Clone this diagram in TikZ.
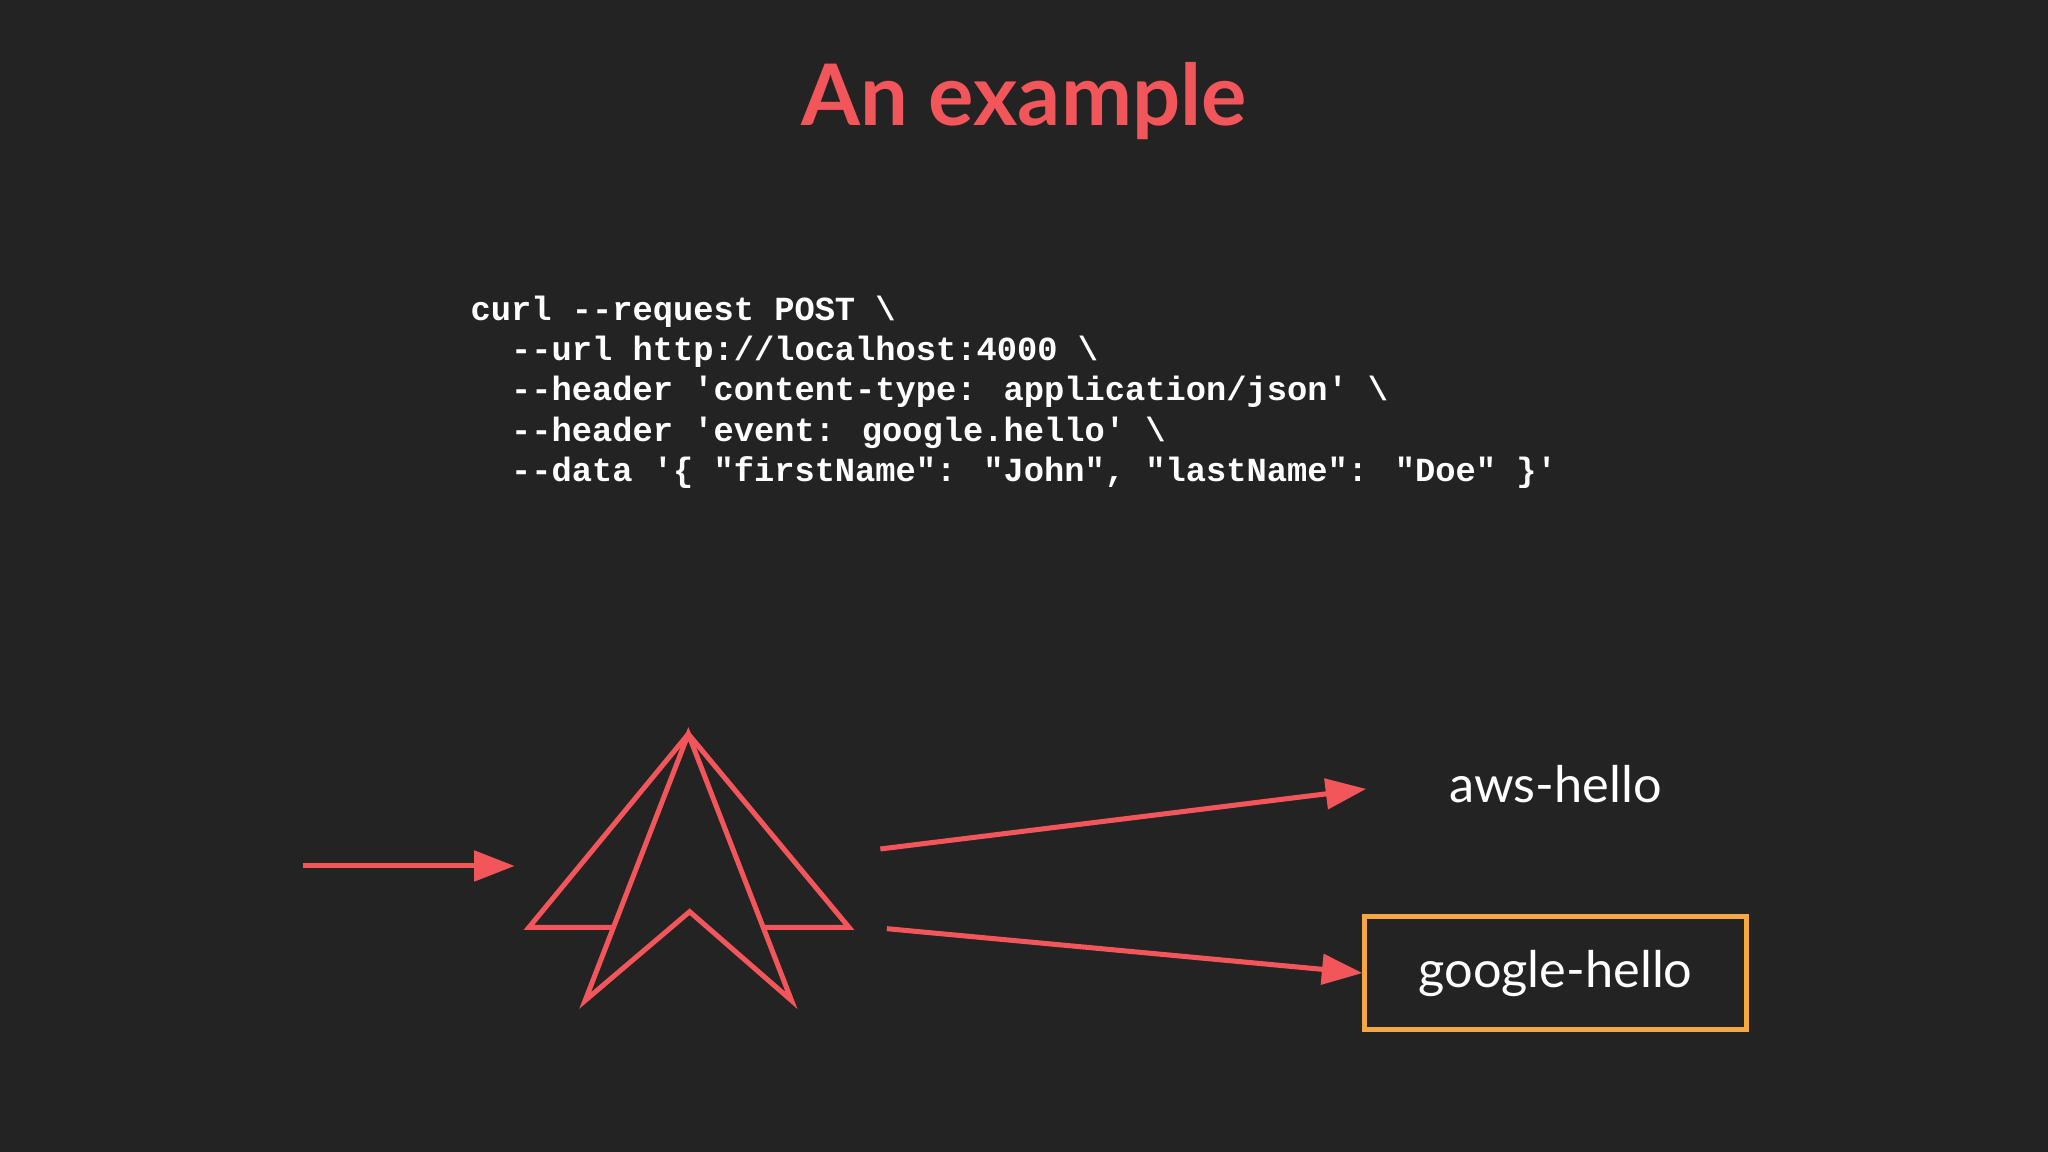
\documentclass[tikz,border=0pt]{standalone}
\usepackage{fontspec}
\setmainfont{Lato}
\newfontfamily\codefont{Liberation Mono}
\usetikzlibrary{arrows.meta}
\definecolor{bg}{HTML}{232323}
\definecolor{accent}{HTML}{F2555A}
\definecolor{boxor}{HTML}{F5A742}
\tikzset{
  redline/.style={draw=accent, line width=2.2pt, line join=miter},
  redarrow/.style={redline, -{Triangle[length=0.62cm,width=0.46cm]}},
  codeline/.style={anchor=base west, inner sep=0pt, text=white, font=\codefont\bfseries\fontsize{14.7pt}{17pt}\selectfont},
  label/.style={text=white, font=\fontsize{22pt}{26pt}\selectfont, inner sep=0pt}
}
\begin{document}
\begin{tikzpicture}[x=0.02cm,y=-0.02cm]
\fill[bg] (0,0) rectangle (1568,882);
\useasboundingbox (0,0) rectangle (1568,882);
\node[text=accent, font=\bfseries\fontsize{37pt}{42pt}\selectfont] (title) at (784,77) {An example};
\node[codeline] (c1) at (360,245) {curl --request POST \textbackslash};
\node[codeline] (c2) at (360,276) {\ \ --url http://localhost:4000 \textbackslash};
\node[codeline] (c3) at (360,307) {\ \ --header 'content-type: application/json' \textbackslash};
\node[codeline] (c4) at (360,338) {\ \ --header 'event: google.hello' \textbackslash};
\node[codeline] (c5) at (360,369) {\ \ --data '\{ "firstName": "John", "lastName": "Doe" \}'};
% logo
\draw[redline] (470,710) -- (405,710) -- (527,562) -- (650,710) -- (585,710);
\draw[redline] (527,562) -- (448,766) -- (528,698) -- (606,766) -- cycle;
\coordinate (in) at (232,663);
\coordinate (logoL) at (394,663);
\coordinate (o1) at (674,650);
\coordinate (o2) at (679,711);
\node[label] (aws) at (1191,600) {aws-hello};
\node[label, draw=boxor, line width=2.2pt, minimum width=5.84cm, minimum height=1.74cm] (goog) at (1191,745) {google-hello};
\draw[redarrow] (in) -- (logoL);
\draw[redarrow] (o1) -- (1046,604);
\draw[redarrow] (o2) -- (goog.west);
\end{tikzpicture}
\end{document}
